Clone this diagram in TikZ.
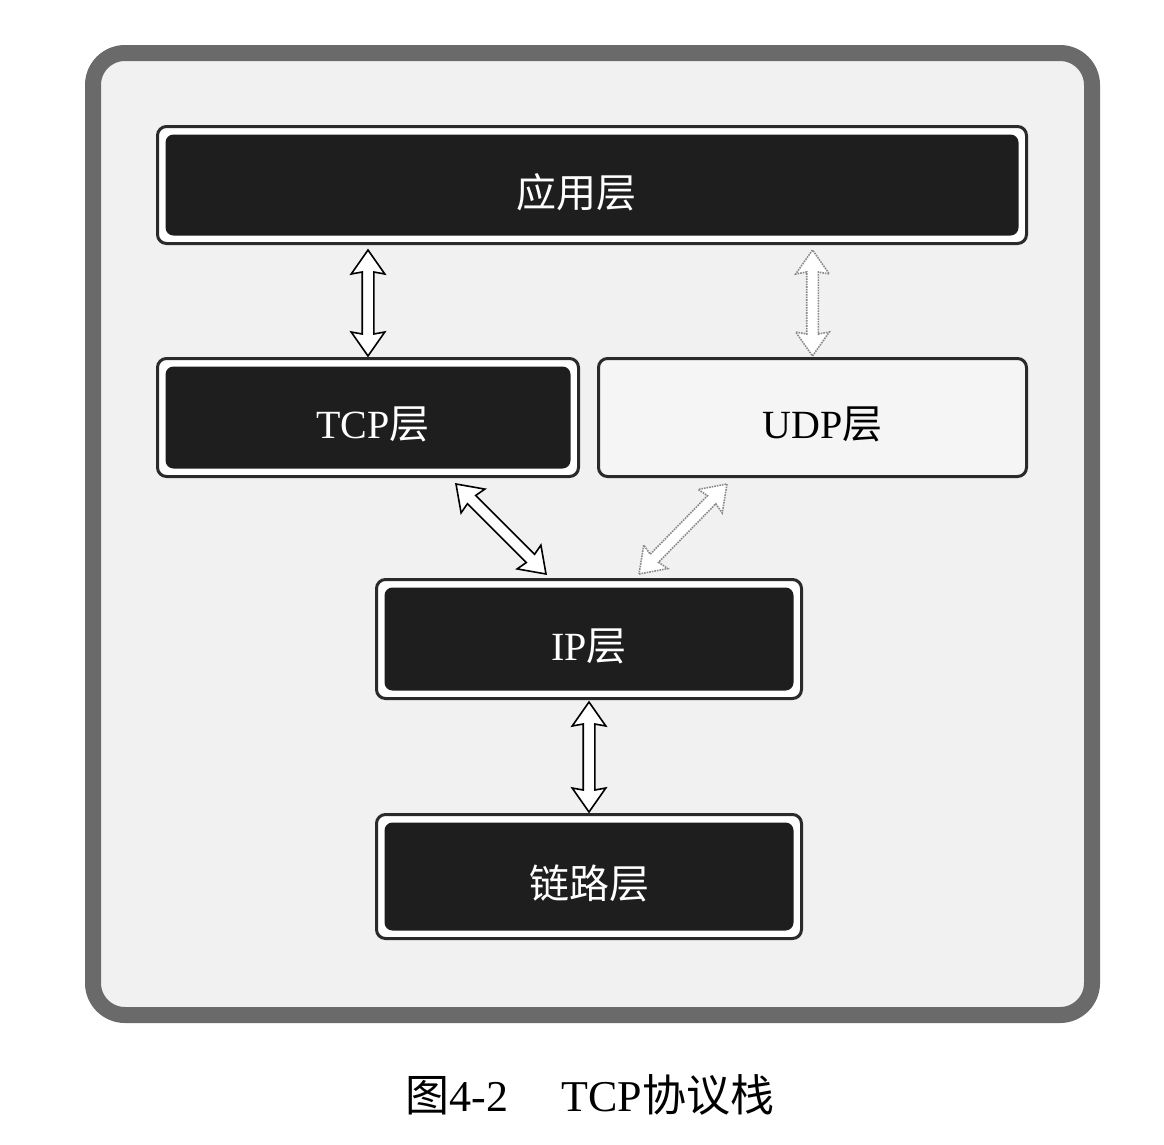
\documentclass[tikz,border=0pt]{standalone}
\usepackage{fontspec}
\setmainfont{Liberation Serif}
\newfontfamily\cjk{Noto Sans CJK SC}
\usetikzlibrary{shapes.arrows,calc}
\definecolor{darkfill}{HTML}{1E1E1E}
\definecolor{boxedge}{HTML}{2A2A2A}
\definecolor{frameedge}{HTML}{6A6A6A}
\definecolor{framefill}{HTML}{F1F1F1}
\definecolor{udpfill}{HTML}{F5F5F5}
\definecolor{dotline}{HTML}{8A8A8A}
\tikzset{
  layerbase/.style={draw=boxedge, line width=3pt, rounded corners=9pt, inner sep=0pt,
    font=\fontsize{40}{42}\selectfont},
  darklayer/.style={layerbase, fill=white, text=white,
    path picture={\fill[darkfill, rounded corners=8pt]
      ([xshift=8pt,yshift=-8pt]path picture bounding box.north west) rectangle
      ([xshift=-8pt,yshift=8pt]path picture bounding box.south east);}},
  lightlayer/.style={layerbase, fill=udpfill, text=black},
  dblarrow/.style={shape=double arrow, draw=black, fill=white, line width=1.6pt,
    inner sep=5pt, double arrow head extend=11pt, double arrow head indent=2pt,
    double arrow tip angle=70},
  dotarrow/.style={draw=dotline, densely dotted},
  captiontext/.style={font=\fontsize{44}{48}\selectfont, text=black}
}
\newcommand\hollowlink[4]{%
  \path let \p1=#2, \p2=#3,
    \n1={atan2(\y2-\y1,\x2-\x1)}, \n2={veclen(\x2-\x1,\y2-\y1)} in
    node[dblarrow,#4,rotate=\n1,minimum height=\n2] (#1) at ($(\p1)!0.5!(\p2)$) {};}
\newcommand\lowered[1]{\raisebox{-7pt}[\height][\depth]{#1}}
\begin{document}
\begin{tikzpicture}[x=1pt,y=-1pt]
\useasboundingbox (0,0) rectangle (1164,1144);
\fill[white] (0,0) rectangle (1164,1144);
% outer frame
\draw[frameedge, line width=16pt, fill=framefill, rounded corners=32pt]
  (93,53) rectangle (1092,1015);
% layers
\node[darklayer, minimum width=869pt, minimum height=117pt] (app) at (592,185) {\hspace*{-32pt}\lowered{\cjk 应用层}};
\node[darklayer, minimum width=421pt, minimum height=118pt] (tcp) at (368,417.5) {\hspace*{10pt}\lowered{TCP{\cjk 层}}};
\node[lightlayer, minimum width=428pt, minimum height=118pt] (udp) at (812.5,417.5) {\hspace*{20pt}\lowered{UDP{\cjk 层}}};
\node[darklayer, minimum width=425pt, minimum height=119pt] (ip) at (589,639) {\lowered{IP{\cjk 层}}};
\node[darklayer, minimum width=425pt, minimum height=124pt] (link) at (589,876.5) {\lowered{\cjk 链路层}};
% connectors
\hollowlink{a1}{($(app.south -| tcp.north)+(0,5)$)}{($(tcp.north)+(0,-1)$)}{}
\hollowlink{a2}{($(app.south -| udp.north)+(0,5)$)}{($(udp.north)+(0,-1)$)}{dotarrow}
\hollowlink{a3}{($(tcp.south)+(88,6)$)}{($(ip.north)+(-43,-4)$)}{}
\hollowlink{a4}{($(udp.south)+(-85.5,6)$)}{($(ip.north)+(50,-4)$)}{dotarrow}
\hollowlink{a5}{($(ip.south)+(0,2)$)}{($(link.north)+(0,-1)$)}{}
% caption
\node[captiontext] (cap) at (590,1095) {{\cjk 图}4-2\hspace{1.2em}TCP{\cjk 协议栈}};
\end{tikzpicture}
\end{document}
